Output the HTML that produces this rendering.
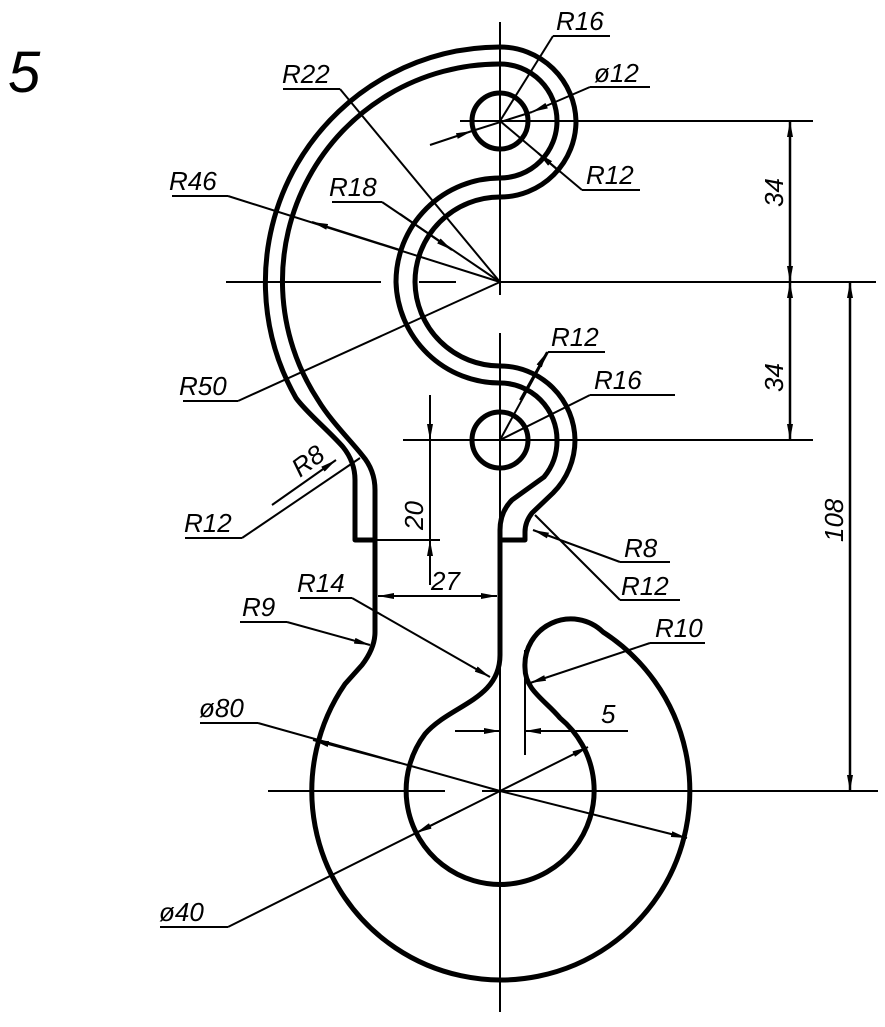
<!DOCTYPE html>
<html><head><meta charset="utf-8"><style>
html,body{margin:0;padding:0;background:#fff;}
svg{display:block;}
text{font-family:"Liberation Sans",sans-serif;font-style:italic;font-size:26px;fill:#000;}
</style></head><body>
<svg width="885" height="1027" viewBox="0 0 885 1027" xmlns="http://www.w3.org/2000/svg">
<defs>
<marker id="a" viewBox="0 0 16 6" refX="16" refY="3" markerWidth="16" markerHeight="6" markerUnits="userSpaceOnUse" orient="auto-start-reverse">
<path d="M0,0 L16,3 L0,6 Z" fill="#000"/></marker>
</defs>
<g fill="none" stroke="#000" stroke-width="5" stroke-linejoin="round">
<path d="M375,540 L355,540 L355,480 Q355,462 343,447 C328,430 306,412 296,398 A235,235 0 0 1 500,47 A76,76 0 0 1 576,121 A76,76 0 0 1 500,197 A85,85 0 0 0 415,282 A85,85 0 0 0 500,366 A75,75 0 0 1 575,440 A75,75 0 0 1 553,493 L532,513 Q525,522 525,532 L525,540 L500,540"/>
<path d="M500,655 L500,530 Q500,512 512,500 L544,477 A57,57 0 0 0 557,440 A57,57 0 0 0 500,383 A104,104 0 0 1 396,282 A104,104 0 0 1 500,178 A57,57 0 0 0 557,121 A57,57 0 0 0 500,64 A217,217 0 0 0 318,400 C330,420 350,440 362,455 Q375,470 375,490 L375,632 Q375,648 362,665 L345,684 A189,189 0 1 0 603,632 A46,46 0 0 0 525,668 C525,690 545,700 560,718 A94,94 0 1 1 425,734 C450,705 500,700 500,655 Z"/>
<circle cx="500" cy="121" r="28"/>
<circle cx="500" cy="440" r="28"/>
</g>
<g fill="none" stroke="#000" stroke-width="2">
<path d="M500,22 V295 M500,333 V1012 M460,121 H813 M226,282 H381 M419,282 H456 M500,282 H876 M403,440 H813 M268,791 H445 M482,791 H878 M525,650 V755"/>
<line x1="790" y1="121" x2="790" y2="282" marker-start="url(#a)" marker-end="url(#a)" stroke-width="2.5"/>
<line x1="790" y1="282" x2="790" y2="440" marker-start="url(#a)" marker-end="url(#a)" stroke-width="2.5"/>
<line x1="850" y1="282" x2="850" y2="791" marker-start="url(#a)" marker-end="url(#a)" stroke-width="2.5"/>
<path d="M375,540 H440"/>
<line x1="430" y1="395" x2="430" y2="440" marker-end="url(#a)"/>
<line x1="430" y1="440" x2="430" y2="540"/>
<line x1="430" y1="585" x2="430" y2="540" marker-end="url(#a)"/>
<line x1="378" y1="596" x2="497" y2="596" marker-start="url(#a)" marker-end="url(#a)"/>
<line x1="455" y1="731" x2="500" y2="731" marker-end="url(#a)"/>
<line x1="628" y1="731" x2="525" y2="731" marker-end="url(#a)"/>
<path d="M553,36 H610 M590,87 H650 M582,190 H640 M283,89 H340 M172,196 H228 M332,202 H382 M183,401 H238 M548,352 H605 M590,395 H675 M185,538 H242 M620,562 H670 M620,600 H680 M240,622 H287 M300,598 H352 M650,643 H705 M200,723 H258 M160,927 H228"/>
<line x1="553" y1="36" x2="500" y2="121"/>
<line x1="590" y1="87" x2="532" y2="112" marker-end="url(#a)"/>
<line x1="430" y1="145" x2="472" y2="131" marker-end="url(#a)"/>
<line x1="472" y1="131" x2="532" y2="112"/>
<line x1="582" y1="190" x2="500" y2="121"/>
<line x1="560" y1="172" x2="538" y2="153" marker-end="url(#a)"/>
<line x1="340" y1="89" x2="500" y2="282"/>
<line x1="228" y1="196" x2="500" y2="282"/>
<line x1="400" y1="250" x2="312" y2="222" marker-end="url(#a)"/>
<line x1="382" y1="202" x2="500" y2="282"/>
<line x1="400" y1="214" x2="452" y2="250" marker-end="url(#a)"/>
<line x1="238" y1="401" x2="500" y2="282"/>
<line x1="548" y1="352" x2="500" y2="440"/>
<line x1="520" y1="400" x2="547" y2="352" marker-end="url(#a)"/>
<line x1="590" y1="395" x2="500" y2="440"/>
<line x1="272" y1="505" x2="336" y2="460" marker-end="url(#a)"/>
<line x1="242" y1="538" x2="360" y2="458"/>
<line x1="620" y1="562" x2="533" y2="530" marker-end="url(#a)"/>
<line x1="620" y1="600" x2="535" y2="515"/>
<line x1="287" y1="622" x2="370" y2="645" marker-end="url(#a)"/>
<line x1="352" y1="598" x2="490" y2="677" marker-end="url(#a)"/>
<line x1="650" y1="643" x2="530" y2="683" marker-end="url(#a)"/>
<line x1="258" y1="723" x2="500" y2="791"/>
<line x1="400" y1="763" x2="313" y2="740" marker-end="url(#a)"/>
<line x1="500" y1="791" x2="687" y2="838" marker-end="url(#a)"/>
<line x1="228" y1="927" x2="500" y2="791"/>
<line x1="460" y1="811" x2="416" y2="833" marker-end="url(#a)"/>
<line x1="500" y1="791" x2="588" y2="747" marker-end="url(#a)"/>
</g>
<text x="8" y="92" style="font-size:58px">5</text>
<text x="556" y="30">R16</text>
<text x="594" y="82">ø12</text>
<text x="586" y="184">R12</text>
<text x="282" y="83">R22</text>
<text x="169" y="190">R46</text>
<text x="329" y="196">R18</text>
<text x="179" y="395">R50</text>
<text x="551" y="346">R12</text>
<text x="594" y="389">R16</text>
<text x="184" y="532">R12</text>
<text x="624" y="557">R8</text>
<text x="621" y="595">R12</text>
<text x="242" y="616">R9</text>
<text x="297" y="592">R14</text>
<text x="655" y="637">R10</text>
<text x="199" y="717">ø80</text>
<text x="159" y="921">ø40</text>
<text x="431" y="590">27</text>
<text x="601" y="723">5</text>
<text transform="translate(300,478) rotate(-37)">R8</text>
<text transform="translate(423,530) rotate(-90)">20</text>
<text transform="translate(783,207) rotate(-90)">34</text>
<text transform="translate(783,392) rotate(-90)">34</text>
<text transform="translate(843,542) rotate(-90)">108</text>
</svg>
</body></html>
